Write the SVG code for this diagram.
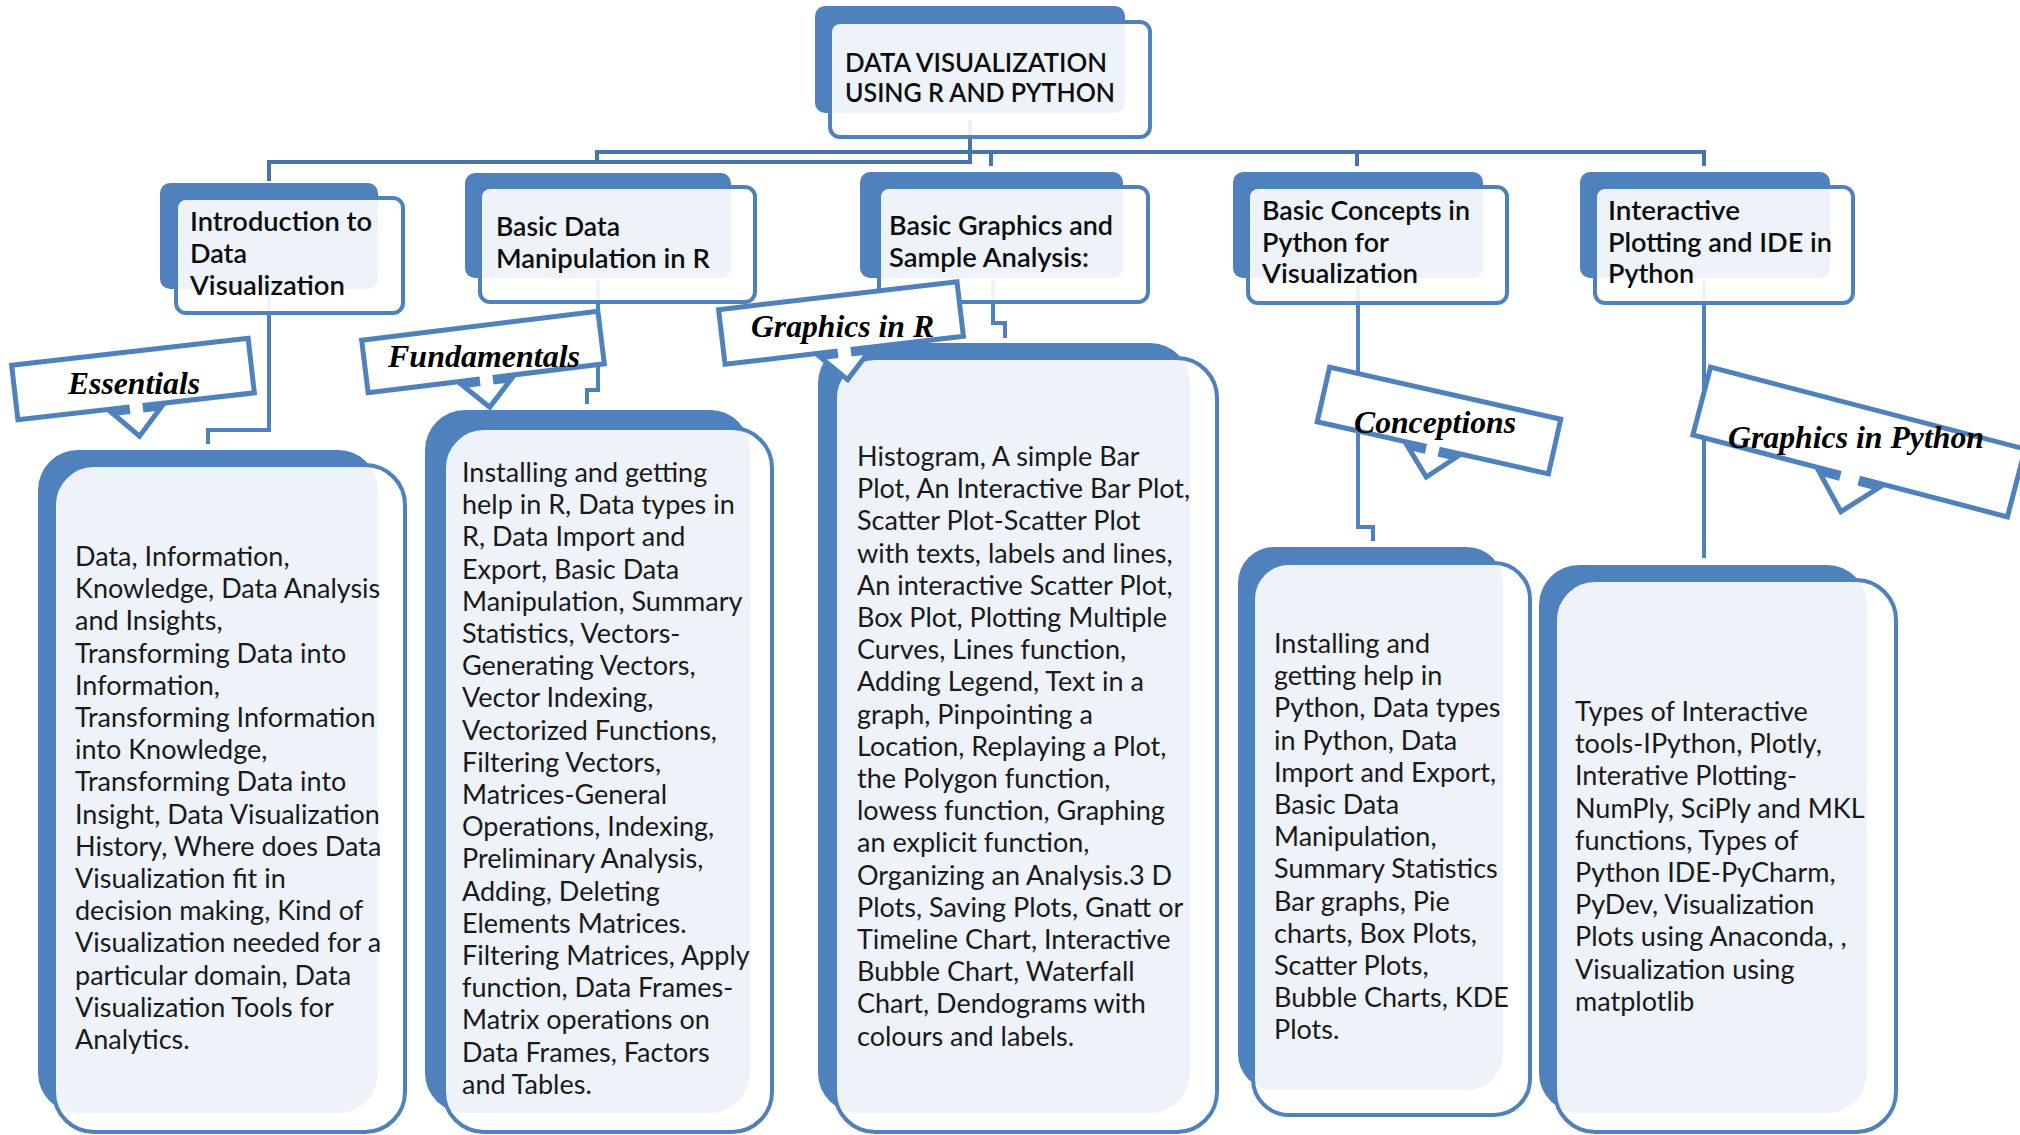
<svg xmlns="http://www.w3.org/2000/svg" width="2020" height="1135" viewBox="0 0 2020 1135">
<style>
.back{fill:#4F81BD}
.front{fill:#FFFFFF;fill-opacity:0.9;stroke:#4F81BD;stroke-width:4}
.conn{fill:none;stroke:#4674AB;stroke-width:4}
.conn2{fill:none;stroke:#4F81BD;stroke-width:4}
.callout{fill:#FFFFFF;stroke:#4F81BD;stroke-width:5;stroke-linejoin:miter}
.title{font-family:Lato,"Liberation Sans",sans-serif;font-size:26.5px;font-weight:600;fill:#0d0d0d}
.body{font-family:Lato,"Liberation Sans",sans-serif;font-size:27px;fill:#1a1a1a}
.label{font-family:"Liberation Serif",serif;font-size:32px;font-weight:bold;font-style:italic;fill:#000}
</style>
<rect width="2020" height="1135" fill="#FFFFFF"/>
<g id="connectors">
<path class="conn" d="M970,120 V162 H269 V181"/>
<path class="conn" d="M597,163 V152 H1704 V166"/>
<path class="conn" d="M991,152 V166"/>
<path class="conn" d="M1357,152 V166"/>
<path class="conn2" d="M269,290 V430 H208 V444"/>
<path class="conn2" d="M598,280 V390 H587 V404"/>
<path class="conn2" d="M993,280 V323 H1005 V338"/>
<path class="conn2" d="M1358,280 V527 H1373 V541"/>
<path class="conn2" d="M1704,280 V558"/>
</g>
<g id="root">
<rect class="back" x="815" y="6" width="310" height="107" rx="10"/>
<rect class="front" x="830" y="22" width="320" height="115" rx="10"/>
<text class="title" x="845" y="72" textLength="262" lengthAdjust="spacingAndGlyphs">DATA VISUALIZATION</text>
<text class="title" x="845" y="102" textLength="270" lengthAdjust="spacingAndGlyphs">USING R AND PYTHON</text>
</g>
<g id="intro">
<rect class="back" x="160" y="183" width="218" height="106" rx="10"/>
<rect class="front" x="176" y="198" width="227" height="115" rx="10"/>
<text class="title" x="190" y="231" textLength="182" lengthAdjust="spacingAndGlyphs">Introduction to</text>
<text class="title" x="190" y="263" textLength="57" lengthAdjust="spacingAndGlyphs">Data</text>
<text class="title" x="190" y="295" textLength="155" lengthAdjust="spacingAndGlyphs">Visualization</text>
</g>
<g id="basic-data">
<rect class="back" x="465" y="173" width="266" height="105" rx="10"/>
<rect class="front" x="480" y="187" width="275" height="115" rx="10"/>
<text class="title" x="496" y="236" textLength="124" lengthAdjust="spacingAndGlyphs">Basic Data</text>
<text class="title" x="496" y="268" textLength="214" lengthAdjust="spacingAndGlyphs">Manipulation in R</text>
</g>
<g id="basic-graphics">
<rect class="back" x="860" y="172" width="263" height="106" rx="10"/>
<rect class="front" x="879" y="187" width="269" height="115" rx="10"/>
<text class="title" x="889" y="235" textLength="224" lengthAdjust="spacingAndGlyphs">Basic Graphics and</text>
<text class="title" x="889" y="267" textLength="200" lengthAdjust="spacingAndGlyphs">Sample Analysis:</text>
</g>
<g id="basic-concepts">
<rect class="back" x="1233" y="172" width="250" height="106" rx="10"/>
<rect class="front" x="1248" y="187" width="259" height="116" rx="10"/>
<text class="title" x="1262" y="220" textLength="208" lengthAdjust="spacingAndGlyphs">Basic Concepts in</text>
<text class="title" x="1262" y="252" textLength="127" lengthAdjust="spacingAndGlyphs">Python for</text>
<text class="title" x="1262" y="283" textLength="156" lengthAdjust="spacingAndGlyphs">Visualization</text>
</g>
<g id="interactive">
<rect class="back" x="1580" y="172" width="250" height="106" rx="10"/>
<rect class="front" x="1595" y="187" width="258" height="116" rx="10"/>
<text class="title" x="1608" y="220" textLength="132" lengthAdjust="spacingAndGlyphs">Interactive</text>
<text class="title" x="1608" y="252" textLength="224" lengthAdjust="spacingAndGlyphs">Plotting and IDE in</text>
<text class="title" x="1608" y="283" textLength="86" lengthAdjust="spacingAndGlyphs">Python</text>
</g>
<g id="essentials-box">
<rect class="back" x="38" y="450" width="340" height="663" rx="40"/>
<rect class="front" x="54" y="465" width="351" height="667" rx="40"/>
<text class="body" x="75" y="566">
<tspan x="75" y="566">Data, Information,</tspan>
<tspan x="75" dy="32.2">Knowledge, Data Analysis</tspan>
<tspan x="75" dy="32.2">and Insights,</tspan>
<tspan x="75" dy="32.2">Transforming Data into</tspan>
<tspan x="75" dy="32.2">Information,</tspan>
<tspan x="75" dy="32.2">Transforming Information</tspan>
<tspan x="75" dy="32.2">into Knowledge,</tspan>
<tspan x="75" dy="32.2">Transforming Data into</tspan>
<tspan x="75" dy="32.2">Insight, Data Visualization</tspan>
<tspan x="75" dy="32.2">History, Where does Data</tspan>
<tspan x="75" dy="32.2">Visualization fit in</tspan>
<tspan x="75" dy="32.2">decision making,  Kind of</tspan>
<tspan x="75" dy="32.2">Visualization needed for a</tspan>
<tspan x="75" dy="32.2">particular domain, Data</tspan>
<tspan x="75" dy="32.2">Visualization Tools for</tspan>
<tspan x="75" dy="32.2">Analytics.</tspan>
</text>
</g>
<g id="fundamentals-box">
<rect class="back" x="425" y="410" width="325" height="703" rx="40"/>
<rect class="front" x="444" y="428" width="328" height="704" rx="40"/>
<text class="body" x="462" y="482">
<tspan x="462" y="482">Installing and getting</tspan>
<tspan x="462" dy="32.2">help in R, Data types in</tspan>
<tspan x="462" dy="32.2">R, Data Import and</tspan>
<tspan x="462" dy="32.2">Export, Basic Data</tspan>
<tspan x="462" dy="32.2">Manipulation, Summary</tspan>
<tspan x="462" dy="32.2">Statistics, Vectors-</tspan>
<tspan x="462" dy="32.2">Generating Vectors,</tspan>
<tspan x="462" dy="32.2">Vector Indexing,</tspan>
<tspan x="462" dy="32.2">Vectorized Functions,</tspan>
<tspan x="462" dy="32.2">Filtering Vectors,</tspan>
<tspan x="462" dy="32.2">Matrices-General</tspan>
<tspan x="462" dy="32.2">Operations, Indexing,</tspan>
<tspan x="462" dy="32.2">Preliminary Analysis,</tspan>
<tspan x="462" dy="32.2">Adding, Deleting</tspan>
<tspan x="462" dy="32.2">Elements Matrices.</tspan>
<tspan x="462" dy="32.2">Filtering Matrices, Apply</tspan>
<tspan x="462" dy="32.2">function, Data Frames-</tspan>
<tspan x="462" dy="32.2">Matrix operations on</tspan>
<tspan x="462" dy="32.2">Data Frames, Factors</tspan>
<tspan x="462" dy="32.2">and Tables.</tspan>
</text>
</g>
<g id="graphics-r-box">
<rect class="back" x="818" y="343" width="372" height="770" rx="40"/>
<rect class="front" x="835" y="358" width="382" height="774" rx="40"/>
<text class="body" x="857" y="466">
<tspan x="857" y="466">Histogram, A simple Bar</tspan>
<tspan x="857" dy="32.2">Plot, An Interactive Bar Plot,</tspan>
<tspan x="857" dy="32.2">Scatter Plot-Scatter Plot</tspan>
<tspan x="857" dy="32.2">with texts, labels and lines,</tspan>
<tspan x="857" dy="32.2">An interactive Scatter Plot,</tspan>
<tspan x="857" dy="32.2">Box Plot, Plotting Multiple</tspan>
<tspan x="857" dy="32.2">Curves, Lines function,</tspan>
<tspan x="857" dy="32.2">Adding Legend, Text in a</tspan>
<tspan x="857" dy="32.2">graph, Pinpointing a</tspan>
<tspan x="857" dy="32.2">Location, Replaying a Plot,</tspan>
<tspan x="857" dy="32.2">the Polygon function,</tspan>
<tspan x="857" dy="32.2">lowess function, Graphing</tspan>
<tspan x="857" dy="32.2">an explicit function,</tspan>
<tspan x="857" dy="32.2">Organizing an Analysis.3 D</tspan>
<tspan x="857" dy="32.2">Plots, Saving Plots, Gnatt or</tspan>
<tspan x="857" dy="32.2">Timeline Chart, Interactive</tspan>
<tspan x="857" dy="32.2">Bubble Chart, Waterfall</tspan>
<tspan x="857" dy="32.2">Chart, Dendograms with</tspan>
<tspan x="857" dy="32.2">colours and labels.</tspan>
</text>
</g>
<g id="conceptions-box">
<rect class="back" x="1238" y="547" width="265" height="543" rx="36"/>
<rect class="front" x="1253" y="563" width="277" height="552" rx="36"/>
<text class="body" x="1274" y="653">
<tspan x="1274" y="653">Installing and</tspan>
<tspan x="1274" dy="32.2">getting help in</tspan>
<tspan x="1274" dy="32.2">Python, Data types</tspan>
<tspan x="1274" dy="32.2">in Python, Data</tspan>
<tspan x="1274" dy="32.2">Import and Export,</tspan>
<tspan x="1274" dy="32.2">Basic Data</tspan>
<tspan x="1274" dy="32.2">Manipulation,</tspan>
<tspan x="1274" dy="32.2">Summary Statistics</tspan>
<tspan x="1274" dy="32.2">Bar graphs, Pie</tspan>
<tspan x="1274" dy="32.2">charts, Box Plots,</tspan>
<tspan x="1274" dy="32.2">Scatter Plots,</tspan>
<tspan x="1274" dy="32.2">Bubble Charts, KDE</tspan>
<tspan x="1274" dy="32.2">Plots.</tspan>
</text>
</g>
<g id="graphics-python-box">
<rect class="back" x="1539" y="565" width="328" height="548" rx="40"/>
<rect class="front" x="1555" y="580" width="341" height="552" rx="40"/>
<text class="body" x="1575" y="721">
<tspan x="1575" y="721">Types of Interactive</tspan>
<tspan x="1575" dy="32.2">tools-IPython, Plotly,</tspan>
<tspan x="1575" dy="32.2">Interative Plotting-</tspan>
<tspan x="1575" dy="32.2">NumPly, SciPly and MKL</tspan>
<tspan x="1575" dy="32.2">functions, Types of</tspan>
<tspan x="1575" dy="32.2">Python IDE-PyCharm,</tspan>
<tspan x="1575" dy="32.2">PyDev, Visualization</tspan>
<tspan x="1575" dy="32.2">Plots using Anaconda, ,</tspan>
<tspan x="1575" dy="32.2">Visualization using</tspan>
<tspan x="1575" dy="32.2">matplotlib</tspan>
</text>
</g>
<g id="callout-essentials">
<path class="callout" transform="translate(133,379) rotate(-6.5)" d="M-119,-27.5 H119 V27.5 H9 V32 H24 L0,57.5 L-24,32 H-9 V27.5 H-119 Z"/>
<text class="label" x="68" y="394" textLength="132" lengthAdjust="spacingAndGlyphs">Essentials</text>
</g>
<g id="callout-fundamentals">
<path class="callout" transform="translate(483,352) rotate(-7)" d="M-119,-26.5 H119 V26.5 H9 V31 H24 L0,55.5 L-24,31 H-9 V26.5 H-119 Z"/>
<text class="label" x="388" y="367" textLength="192" lengthAdjust="spacingAndGlyphs">Fundamentals</text>
</g>
<g id="callout-graphics-r">
<path class="callout" transform="translate(841,323) rotate(-6.7)" d="M-120,-27.5 H120 V27.5 H9 V32 H24 L0,57 L-24,32 H-9 V27.5 H-120 Z"/>
<text class="label" x="751" y="337" textLength="183" lengthAdjust="spacingAndGlyphs">Graphics in R</text>
</g>
<g id="callout-conceptions">
<path class="callout" transform="translate(1439,420.5) rotate(12.7)" d="M-118.5,-28 H118.5 V28 H9 V33 H24 L0,58 L-24,33 H-9 V28 H-118.5 Z"/>
<text class="label" x="1354" y="433" textLength="162" lengthAdjust="spacingAndGlyphs">Conceptions</text>
</g>
<g id="callout-graphics-python">
<path class="callout" transform="translate(1859,442) rotate(14.6)" d="M-162.5,-35 H162.5 V35 H12 V40 H30 L0,72 L-30,40 H-12 V35 H-162.5 Z"/>
<text class="label" x="1728" y="448" textLength="256" lengthAdjust="spacingAndGlyphs">Graphics in Python</text>
</g>
</svg>
